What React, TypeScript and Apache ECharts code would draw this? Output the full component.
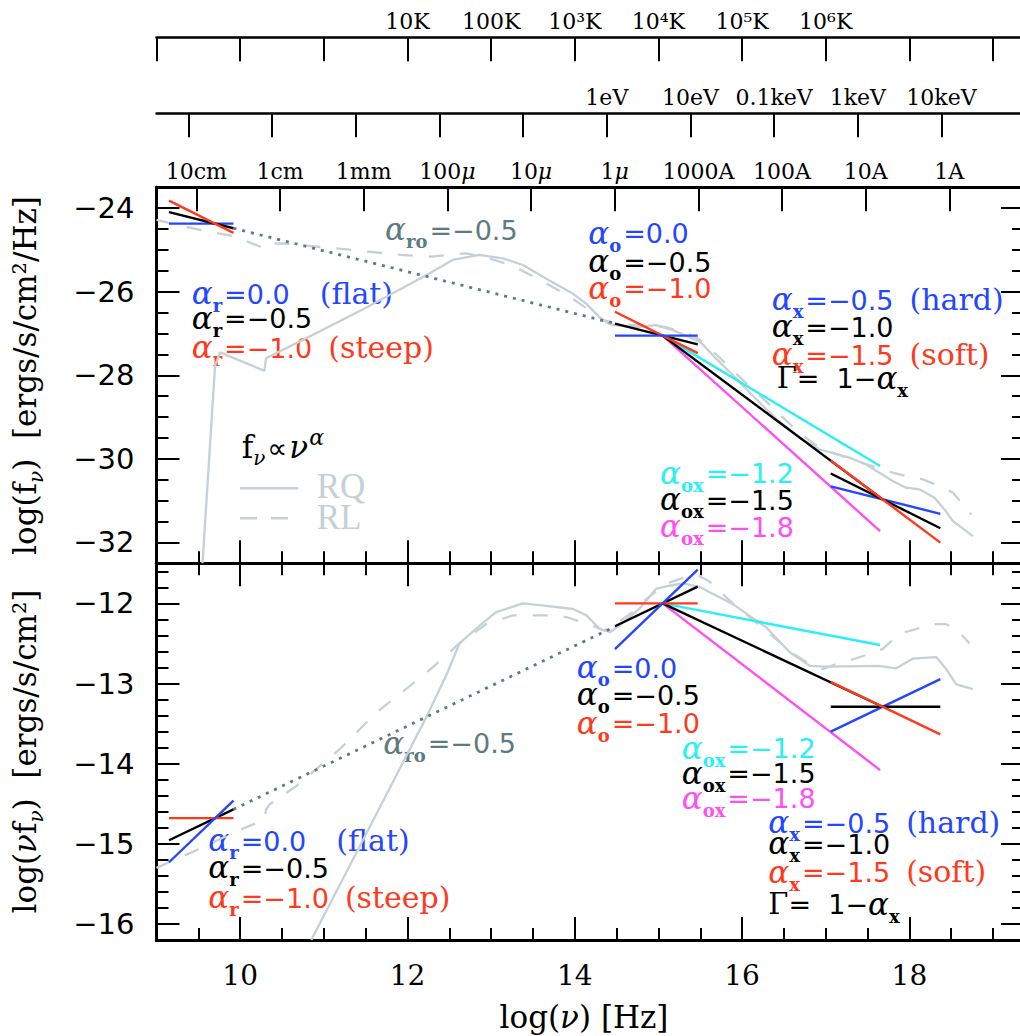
import React, { useEffect, useRef } from 'react';
import * as echarts from 'echarts';

// ---------------- axis ranges & ticks ----------------
const X_MIN = 9;
const X_MAX = 19.37;
const TOP_Y_MIN = -32.5;
const TOP_Y_MAX = -23.5;
const BOT_Y_MIN = -16.2;
const BOT_Y_MAX = -11.5;

const xMajorTicks = [10, 12, 14, 16, 18];
const xMajorLabels = ['10', '12', '14', '16', '18'];
const topYMajorTicks = [-32, -30, -28, -26, -24];
const topYMajorLabels = ['−32', '−30', '−28', '−26', '−24'];
const botYMajorTicks = [-16, -15, -14, -13, -12];
const botYMajorLabels = ['−16', '−15', '−14', '−13', '−12'];

const tempTicks = [9, 10, 11, 12, 13, 14, 15, 16, 17, 18, 19];
const tempLabelPos = [12, 13, 14, 15, 16, 17];
const tempLabels = ['10K', '100K', '10³K', '10⁴K', '10⁵K', '10⁶K'];
const energyTicks = [9.383, 10.383, 11.383, 12.383, 13.383, 14.383, 15.383, 16.383, 17.383, 18.383];
const energyLabelPos = [14.383, 15.383, 16.383, 17.383, 18.383];
const energyLabels = ['1eV', '10eV', '0.1keV', '1keV', '10keV'];
const waveTicks = [9.477, 10.477, 11.477, 12.477, 13.477, 14.477, 15.477, 16.477, 17.477, 18.477];
const waveLabels = ['10cm', '1cm', '1mm', '100μ', '10μ', '1μ', '1000A', '100A', '10A', '1A'];

// ---------------- SED curves: log f_nu (top) ----------------
const rqTop: number[][] = [
  [9.55, -32.5], [9.7, -27.77], [9.76, -27.45], [10.29, -27.89], [10.31, -27.59], [10.85, -27.05],
  [11.47, -26.42], [12.23, -25.6], [12.54, -25.24], [12.86, -25.12], [13.14, -25.2], [13.38, -25.36],
  [13.66, -25.69], [13.98, -26.05], [14.14, -26.29], [14.3, -26.62], [14.42, -26.78], [14.58, -26.82],
  [14.77, -26.84], [14.97, -26.8], [15.17, -26.92], [15.5, -27.2], [15.69, -27.6], [15.89, -28.0],
  [16.13, -28.49], [16.41, -29.05], [16.69, -29.5], [16.92, -29.77], [17.28, -29.97], [17.48, -30.13],
  [17.8, -30.53], [17.96, -30.69], [18.12, -30.73], [18.3, -30.93], [18.42, -31.21], [18.52, -31.49],
  [18.76, -31.85],
];
const rlTop: number[][] = [
  [9.0, -24.28], [9.36, -24.45], [9.6, -24.55], [9.94, -24.68], [10.29, -24.96], [10.33, -24.86],
  [10.49, -24.84], [10.69, -24.88], [11.13, -24.96], [11.53, -25.04], [11.93, -25.12], [12.29, -25.16],
  [12.48, -25.12], [12.7, -25.08], [12.94, -25.18], [13.26, -25.38], [13.66, -25.8], [13.9, -26.07],
  [14.22, -26.5], [14.35, -26.69], [14.5, -26.75], [14.69, -26.8], [14.85, -26.8], [15.1, -26.85],
  [15.3, -26.98], [15.45, -27.09], [15.6, -27.32], [15.89, -27.89], [16.3, -28.65], [16.6, -29.22],
  [16.81, -29.57], [16.96, -29.78], [17.12, -29.88], [17.32, -30.02], [17.52, -30.15], [17.68, -30.25],
  [17.8, -30.33], [17.96, -30.41], [18.16, -30.49], [18.36, -30.65], [18.52, -30.81], [18.64, -31.09],
  [18.74, -31.33],
];

// ---------------- SED curves: log nu f_nu (bottom) ----------------
const rqBot: number[][] = [
  [10.85, -16.2], [11.47, -14.95], [12.23, -13.41], [12.48, -12.86], [12.62, -12.5], [12.86, -12.28],
  [13.06, -12.11], [13.38, -12.0], [13.66, -12.03], [13.98, -12.07], [14.14, -12.15], [14.3, -12.32],
  [14.42, -12.36], [14.58, -12.24], [14.77, -12.07], [14.97, -11.82], [15.13, -11.78], [15.3, -11.75],
  [15.5, -11.8], [15.89, -12.01], [16.29, -12.3], [16.57, -12.61], [16.81, -12.78], [17.0, -12.79],
  [17.64, -12.78], [17.84, -12.81], [18.04, -12.69], [18.32, -12.67], [18.44, -12.82], [18.56, -13.01],
  [18.76, -13.07],
];
const rlBot: number[][] = [
  [9.0, -15.3], [9.52, -15.06], [9.92, -14.86], [10.29, -14.7], [10.31, -14.57], [10.35, -14.51],
  [10.67, -14.28], [11.19, -13.82], [11.63, -13.36], [12.03, -13.03], [12.3, -12.8], [12.62, -12.5],
  [12.94, -12.26], [13.26, -12.15], [13.66, -12.15], [13.9, -12.17], [14.22, -12.28], [14.35, -12.34],
  [14.5, -12.25], [14.69, -12.11], [14.85, -11.95], [15.1, -11.75], [15.3, -11.68], [15.45, -11.64],
  [15.6, -11.72], [15.89, -12.0], [16.3, -12.35], [16.6, -12.62], [16.81, -12.76], [16.96, -12.82],
  [17.12, -12.76], [17.32, -12.7], [17.52, -12.63], [17.68, -12.57], [17.88, -12.38], [18.08, -12.32],
  [18.24, -12.26], [18.44, -12.26], [18.56, -12.32], [18.72, -12.5],
];

// ---------------- power-law segments, top panel (log f_nu) ----------------
const radioFlatTop = [[9.15, -24.37], [9.92, -24.37]];
const radioMidTop = [[9.15, -24.095], [9.92, -24.48]];
const radioSteepTop = [[9.15, -23.82], [9.92, -24.59]];
const roTop = [[9.92, -24.48], [14.48, -26.76]];
const optFlatTop = [[14.48, -27.05], [15.47, -27.05]];
const optMidTop = [[14.48, -26.765], [15.47, -27.26]];
const optSteepTop = [[14.48, -26.48], [15.47, -27.47]];
const ox12Top = [[15.05, -27.05], [17.65, -30.17]];
const ox15Top = [[15.05, -27.05], [17.68, -30.97]];
const ox18Top = [[15.05, -27.05], [17.65, -31.73]];
const xHardTop = [[17.06, -30.66], [18.37, -31.315]];
const xMidTop = [[17.06, -30.35], [18.37, -31.66]];
const xSoftTop = [[17.06, -30.04], [18.37, -32.005]];

// ---------------- power-law segments, bottom panel (log nu f_nu) ----------------
const radioFlatBot = [[9.15, -15.23], [9.92, -14.46]];
const radioMidBot = [[9.15, -14.955], [9.92, -14.57]];
const radioSteepBot = [[9.15, -14.68], [9.92, -14.68]];
const roBot = [[9.92, -14.57], [14.48, -12.29]];
const optFlatBot = [[14.48, -12.57], [15.47, -11.58]];
const optMidBot = [[14.48, -12.285], [15.47, -11.79]];
const optSteepBot = [[14.48, -12.0], [15.47, -12.0]];
const ox12Bot = [[15.05, -12.0], [17.65, -12.52]];
const ox15Bot = [[15.05, -12.0], [17.68, -13.29]];
const ox18Bot = [[15.05, -12.0], [17.65, -14.08]];
const xHardBot = [[17.06, -13.6], [18.37, -12.945]];
const xMidBot = [[17.06, -13.29], [18.37, -13.29]];
const xSoftBot = [[17.06, -12.98], [18.37, -13.635]];

// ---------------- colours ----------------
const BLUE = '#2346ff';
const RED = '#ff3a1c';
const BLACK = '#000000';
const CYAN = '#2af0f5';
const MAGENTA = '#ff4ff0';
const GRAY = '#c6d0d6';
const SLATE = '#5e7b80';

// ---------------- text helpers ----------------
const MID = 0.346;
const RUN: Record<string, { font: string; size: number; dy: number }> = {
  A: { font: "italic 31px 'DejaVu Serif'", size: 31, dy: 0 },
  S: { font: "bold 18px 'DejaVu Serif'", size: 18, dy: 8 },
  N: { font: "27px 'DejaVu Sans'", size: 27, dy: 0 },
  W: { font: "30px 'DejaVu Serif'", size: 30, dy: 0 },
  G: { font: "29px 'DejaVu Serif'", size: 29, dy: 0 },
  T: { font: "31px 'DejaVu Serif'", size: 31, dy: 0 },
  TI: { font: "italic 31px 'DejaVu Serif'", size: 31, dy: 0 },
  TS: { font: "italic 20px 'DejaVu Serif'", size: 20, dy: 7 },
  TP: { font: "italic 22px 'DejaVu Serif'", size: 22, dy: -13 },
  P: { font: "28px 'DejaVu Sans'", size: 28, dy: 0 },
  L: { font: "35px 'Liberation Serif'", size: 35, dy: 0 },
};

let measureCtx: CanvasRenderingContext2D | null = null;
function tw(text: string, font: string): number {
  if (!measureCtx) measureCtx = document.createElement('canvas').getContext('2d');
  measureCtx!.font = font;
  return measureCtx!.measureText(text).width;
}

type Part = [string, string, number?];
function runs(parts: Part[], x0: number, base: number, color: string) {
  const els: any[] = [];
  let x = x0;
  for (const [t, k, dx] of parts) {
    const r = RUN[k];
    x += dx || 0;
    els.push({
      type: 'text', x, y: base + r.dy - MID * r.size, silent: true,
      style: { text: t, font: r.font, fill: color, align: 'left', verticalAlign: 'middle', textAlign: 'left', textVerticalAlign: 'middle' },
    });
    x += tw(t, r.font);
  }
  return { els, width: x - x0 };
}
function partsWidth(parts: Part[]) {
  return runs(parts, 0, 0, '#000').width;
}
const al = (sub: string, val: string, extra?: Part): Part[] => {
  const p: Part[] = [['α', 'A'], [sub, 'S', 0], [val, 'N', 2]];
  if (extra) p.push(extra);
  return p;
};
const gammaParts: Part[] = [['Γ', 'G'], ['=  1−', 'N'], ['α', 'A'], ['x', 'S', 0]];

const annotations: { x: number; y: number; c: string; p: Part[] }[] = [
  // top panel
  { x: 385, y: 240, c: SLATE, p: al('ro', '=−0.5') },
  { x: 191.7, y: 303.5, c: BLUE, p: al('r', '=0.0', ['(flat)', 'W', 30]) },
  { x: 191.7, y: 328.3, c: BLACK, p: al('r', '=−0.5') },
  { x: 191.7, y: 358, c: RED, p: al('r', '=−1.0', ['(steep)', 'W', 16]) },
  { x: 588.3, y: 243.3, c: BLUE, p: al('o', '=0.0') },
  { x: 588.3, y: 271.7, c: BLACK, p: al('o', '=−0.5') },
  { x: 588.3, y: 298.3, c: RED, p: al('o', '=−1.0') },
  { x: 771.7, y: 310, c: BLUE, p: al('x', '=−0.5', ['(hard)', 'W', 16]) },
  { x: 771.7, y: 336.7, c: BLACK, p: al('x', '=−1.0') },
  { x: 771.7, y: 365, c: RED, p: al('x', '=−1.5', ['(soft)', 'W', 16]) },
  { x: 776.7, y: 388.3, c: BLACK, p: gammaParts },
  { x: 660, y: 483.3, c: CYAN, p: al('ox', '=−1.2') },
  { x: 660, y: 510, c: BLACK, p: al('ox', '=−1.5') },
  { x: 660, y: 536.7, c: MAGENTA, p: al('ox', '=−1.8') },
  // bottom panel
  { x: 383.3, y: 753.3, c: SLATE, p: al('ro', '=−0.5') },
  { x: 208.3, y: 851, c: BLUE, p: al('r', '=0.0', ['(flat)', 'W', 30]) },
  { x: 208.3, y: 877.7, c: BLACK, p: al('r', '=−0.5') },
  { x: 208.3, y: 907.7, c: RED, p: al('r', '=−1.0', ['(steep)', 'W', 16]) },
  { x: 576.7, y: 677.7, c: BLUE, p: al('o', '=0.0') },
  { x: 576.7, y: 705, c: BLACK, p: al('o', '=−0.5') },
  { x: 576.7, y: 733.3, c: RED, p: al('o', '=−1.0') },
  { x: 681.7, y: 758.3, c: CYAN, p: al('ox', '=−1.2') },
  { x: 681.7, y: 783.3, c: BLACK, p: al('ox', '=−1.5') },
  { x: 681.7, y: 808.3, c: MAGENTA, p: al('ox', '=−1.8') },
  { x: 768.3, y: 832.7, c: BLUE, p: al('x', '=−0.5', ['(hard)', 'W', 16]) },
  { x: 768.3, y: 854, c: BLACK, p: al('x', '=−1.0') },
  { x: 768.3, y: 882.3, c: RED, p: al('x', '=−1.5', ['(soft)', 'W', 16]) },
  { x: 768.3, y: 914.3, c: BLACK, p: gammaParts },
];

function buildGraphics() {
  const g: any[] = [];
  for (const a of annotations) g.push(...runs(a.p, a.x, a.y, a.c).els);

  // f_nu ∝ nu^alpha
  g.push(...runs([['f', 'T'], ['ν', 'TS', 0], ['∝', 'P', 2], ['ν', 'TI', 2], ['α', 'TP', 1]], 241.7, 458, BLACK).els);

  // legend RQ / RL
  g.push({ type: 'line', silent: true, shape: { x1: 240, y1: 488.3, x2: 298.3, y2: 488.3 }, style: { stroke: GRAY, lineWidth: 2.5 } });
  g.push({ type: 'line', silent: true, shape: { x1: 240, y1: 518.3, x2: 298.3, y2: 518.3 }, style: { stroke: GRAY, lineWidth: 2.5, lineDash: [17, 14] } });
  g.push(...runs([['RQ', 'L']], 316.7, 498.3, GRAY).els);
  g.push(...runs([['RL', 'L']], 316.7, 530, GRAY).els);

  // x-axis title
  const xt: Part[] = [['log(', 'T'], ['ν', 'TI'], [') [Hz]', 'T']];
  const xw = partsWidth(xt);
  g.push(...runs(xt, 584 - xw / 2, 1028, BLACK).els);

  // y-axis titles (rotated)
  const yt1: Part[] = [['log(f', 'T'], ['ν', 'TS'], [')  [ergs/s/cm²/Hz]', 'T']];
  const w1 = partsWidth(yt1);
  g.push({ type: 'group', x: 36, y: 375.5, rotation: Math.PI / 2, silent: true, children: runs(yt1, -w1 / 2, 0, BLACK).els });
  const yt2: Part[] = [['log(', 'T'], ['ν', 'TI'], ['f', 'T'], ['ν', 'TS'], [')  [ergs/s/cm²]', 'T']];
  const w2 = partsWidth(yt2);
  g.push({ type: 'group', x: 36, y: 751.5, rotation: Math.PI / 2, silent: true, children: runs(yt2, -w2 / 2, 0, BLACK).els });
  return g;
}

// ---------------- axes ----------------
const lineStyle = { color: '#000', width: 3 };
const tickStyle = { color: '#000', width: 2 };
const pick = (pos: number[], labels: string[]) => (v: number) => {
  const i = pos.findIndex((p) => Math.abs(p - v) < 1e-6);
  return i >= 0 ? labels[i] : '';
};

function xAxisDef(gridIndex: number, position: string, extra: any) {
  return {
    type: 'value', gridIndex, position, min: X_MIN, max: X_MAX,
    splitLine: { show: false }, axisPointer: { show: false },
    axisLine: { show: true, onZero: false, lineStyle },
    axisLabel: { show: false },
    ...extra,
  };
}
function yAxisDef(gridIndex: number, position: string, min: number, max: number, extra: any) {
  return {
    type: 'value', gridIndex, position, min, max,
    splitLine: { show: false }, axisPointer: { show: false },
    axisLine: { show: true, onZero: false, lineStyle },
    axisLabel: { show: false },
    ...extra,
  };
}
const minorTick = (len: number) => ({ show: true, inside: true, length: len, lineStyle: tickStyle });
const customTick = (vals: number[], len: number) => ({ show: true, inside: true, length: len, customValues: vals, lineStyle: tickStyle });

const topLabel = (pos: number[], labels: string[]) => ({
  show: true, customValues: pos, formatter: (v: number) => {
    const s = pick(pos, labels)(v);
    return s.replace('μ', '{i|μ}');
  },
  fontFamily: 'DejaVu Serif', fontSize: 22, color: '#000', margin: 5,
  rich: { i: { fontFamily: 'DejaVu Serif', fontStyle: 'italic', fontSize: 22, color: '#000' } },
});

function buildOption() {
  const xAxis = [
    xAxisDef(0, 'top', { axisLine: { show: true, onZero: false, lineStyle: { color: '#000', width: 2.5 } }, axisTick: customTick(tempTicks, 24), axisLabel: topLabel(tempLabelPos, tempLabels) }),
    xAxisDef(1, 'top', { axisLine: { show: true, onZero: false, lineStyle: { color: '#000', width: 2.5 } }, axisTick: customTick(energyTicks, 24), axisLabel: topLabel(energyLabelPos, energyLabels) }),
    xAxisDef(2, 'top', { axisTick: customTick(waveTicks, 24), axisLabel: topLabel(waveTicks, waveLabels) }),
    xAxisDef(2, 'bottom', { interval: 0.5, axisTick: minorTick(12) }),
    xAxisDef(2, 'bottom', { axisTick: customTick(xMajorTicks, 23) }),
    xAxisDef(3, 'top', { interval: 0.5, axisTick: minorTick(12) }),
    xAxisDef(3, 'top', { axisTick: customTick(xMajorTicks, 23) }),
    xAxisDef(3, 'bottom', { interval: 0.5, axisTick: minorTick(12) }),
    xAxisDef(3, 'bottom', {
      axisTick: customTick(xMajorTicks, 23),
      axisLabel: { show: true, customValues: xMajorTicks, formatter: pick(xMajorTicks, xMajorLabels), fontFamily: 'DejaVu Serif', fontSize: 28, color: '#000', margin: 21 },
    }),
  ];
  const yLab = (pos: number[], labels: string[]) => ({ show: true, customValues: pos, formatter: pick(pos, labels), fontFamily: 'DejaVu Sans', fontSize: 29, color: '#000', margin: 22 });
  const yAxis = [
    yAxisDef(2, 'left', TOP_Y_MIN, TOP_Y_MAX, { interval: 0.5, axisTick: minorTick(12) }),
    yAxisDef(2, 'left', TOP_Y_MIN, TOP_Y_MAX, { axisTick: customTick(topYMajorTicks, 23), axisLabel: yLab(topYMajorTicks, topYMajorLabels) }),
    yAxisDef(2, 'right', TOP_Y_MIN, TOP_Y_MAX, { interval: 0.5, axisTick: minorTick(12) }),
    yAxisDef(2, 'right', TOP_Y_MIN, TOP_Y_MAX, { axisTick: customTick(topYMajorTicks, 23) }),
    yAxisDef(3, 'left', BOT_Y_MIN, BOT_Y_MAX, { interval: 0.2, axisTick: minorTick(12) }),
    yAxisDef(3, 'left', BOT_Y_MIN, BOT_Y_MAX, { axisTick: customTick(botYMajorTicks, 23), axisLabel: yLab(botYMajorTicks, botYMajorLabels) }),
    yAxisDef(3, 'right', BOT_Y_MIN, BOT_Y_MAX, { interval: 0.2, axisTick: minorTick(12) }),
    yAxisDef(3, 'right', BOT_Y_MIN, BOT_Y_MAX, { axisTick: customTick(botYMajorTicks, 23) }),
    { type: 'value', gridIndex: 0, show: false, min: 0, max: 1 },
    { type: 'value', gridIndex: 1, show: false, min: 0, max: 1 },
  ];

  const line = (data: number[][], panel: 'top' | 'bot', color: string, width = 2.4, type: any = 'solid') => ({
    type: 'line', data, symbol: 'none', silent: true, clip: true,
    xAxisIndex: panel === 'top' ? 3 : 7, yAxisIndex: panel === 'top' ? 0 : 4,
    lineStyle: { color, width, type, cap: 'butt' }, emphasis: { disabled: true },
  });
  const DASH = [15, 16];
  const DOT = [3, 6];
  const series = [
    line(rqTop, 'top', GRAY, 2.3),
    line(rlTop, 'top', GRAY, 2.3, DASH),
    line(roTop, 'top', SLATE, 2.8, DOT),
    line(ox12Top, 'top', CYAN),
    line(ox18Top, 'top', MAGENTA),
    line(ox15Top, 'top', BLACK),
    line(optMidTop, 'top', BLACK),
    line(optSteepTop, 'top', RED),
    line(optFlatTop, 'top', BLUE),
    line(xHardTop, 'top', BLUE),
    line(xMidTop, 'top', BLACK),
    line(xSoftTop, 'top', RED),
    line(radioFlatTop, 'top', BLUE),
    line(radioMidTop, 'top', BLACK),
    line(radioSteepTop, 'top', RED),

    line(rqBot, 'bot', GRAY, 2.3),
    line(rlBot, 'bot', GRAY, 2.3, DASH),
    line(roBot, 'bot', SLATE, 2.8, DOT),
    line(ox12Bot, 'bot', CYAN),
    line(ox18Bot, 'bot', MAGENTA),
    line(ox15Bot, 'bot', BLACK),
    line(optMidBot, 'bot', BLACK),
    line(optSteepBot, 'bot', RED),
    line(optFlatBot, 'bot', BLUE),
    line(xHardBot, 'bot', BLUE),
    line(xMidBot, 'bot', BLACK),
    line(xSoftBot, 'bot', RED),
    line(radioMidBot, 'bot', BLACK),
    line(radioSteepBot, 'bot', RED),
    line(radioFlatBot, 'bot', BLUE),
  ];

  const gridCommon = { left: 156.5, right: 16, containLabel: false, outerBoundsMode: 'none', show: false };
  return {
    animation: false,
    backgroundColor: '#ffffff',
    grid: [
      { ...gridCommon, top: 37.3, height: 40 },
      { ...gridCommon, top: 113.3, height: 40 },
      { ...gridCommon, top: 187.3, height: 376 },
      { ...gridCommon, top: 563.3, height: 376.7 },
    ],
    xAxis, yAxis, series,
    graphic: { elements: buildGraphics() },
  };
}

export default function App() {
  const ref = useRef<HTMLDivElement>(null);
  useEffect(() => {
    const chart = echarts.init(ref.current!, null, { renderer: 'svg' });
    chart.setOption(buildOption() as any);
    return () => chart.dispose();
  }, []);
  return (
    <div style={{ position: 'fixed', left: 0, top: 0, width: 1020, height: 1036, overflow: 'hidden', background: '#fff' }}>
      <div ref={ref} style={{ width: 1040, height: 1036 }} />
    </div>
  );
}
